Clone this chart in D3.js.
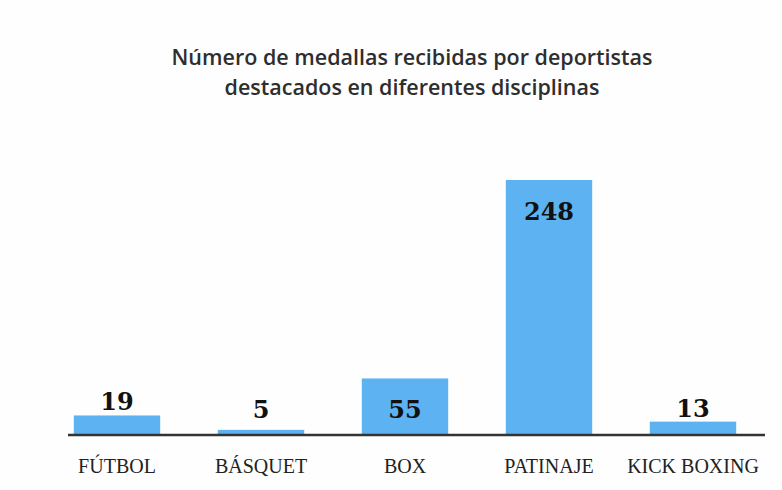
<!DOCTYPE html>
<html>
<head>
<meta charset="utf-8">
<script src="https://cdn.jsdelivr.net/npm/d3@7"></script>
<style>
  html, body { margin: 0; padding: 0; background: #fefefe; }
  svg { display: block; }
</style>
</head>
<body>
<svg id="chart" width="782" height="490"></svg>
<script>
// Medals per discipline
const categories = ["FÚTBOL", "BÁSQUET", "BOX", "PATINAJE", "KICK BOXING"];
const medals = [19, 5, 55, 248, 13];
const titleLines = [
  "Número de medallas recibidas por deportistas",
  "destacados en diferentes disciplinas"
];

const svg = d3.select("#chart");
const base = 435;

const x = d3.scaleBand()
  .domain(categories)
  .range([45, 765])
  .paddingInner(0.4)
  .paddingOuter(0.2);

const y = d3.scaleLinear()
  .domain([0, 248])
  .range([base, 180]);

// Title
svg.append("g")
  .selectAll("text")
  .data(titleLines)
  .join("text")
  .attr("x", 412)
  .attr("y", (d, i) => 65 + i * 30)
  .attr("text-anchor", "middle")
  .attr("font-family", "'Open Sans', sans-serif")
  .attr("font-weight", 600)
  .attr("font-size", 21.5)
  .attr("fill", "#2e2e2e")
  .text(d => d);

// Bars
svg.append("g")
  .selectAll("rect")
  .data(medals)
  .join("rect")
  .attr("x", (d, i) => x(categories[i]))
  .attr("width", x.bandwidth())
  .attr("y", d => y(d))
  .attr("height", d => base - y(d))
  .attr("fill", "#5db2f1");

// Baseline
svg.append("line")
  .attr("x1", 68).attr("x2", 765)
  .attr("y1", base).attr("y2", base)
  .attr("stroke", "#333")
  .attr("stroke-width", 2.5);

// Value labels: inside the bar when it is tall enough, otherwise just above
function labelY(v) {
  const top = y(v);
  if (top + 40 <= base - 14) return top + 40;
  return Math.min(top - 5, base - 17);
}
svg.append("g")
  .selectAll("text")
  .data(medals)
  .join("text")
  .attr("x", (d, i) => x(categories[i]) + x.bandwidth() / 2)
  .attr("y", d => labelY(d))
  .attr("text-anchor", "middle")
  .attr("font-family", "'DejaVu Serif', serif")
  .attr("font-weight", 700)
  .attr("font-size", 24)
  .attr("fill", "#111")
  .text(d => d);

// Category axis labels
const xAxis = d3.axisBottom(x).tickSize(0).tickPadding(0);
const gx = svg.append("g")
  .attr("transform", `translate(0, ${base})`)
  .call(xAxis);
gx.select(".domain").remove();
gx.selectAll("text")
  .attr("dy", 0)
  .attr("y", 38)
  .attr("font-family", "'Liberation Serif', serif")
  .attr("font-size", 20)
  .attr("fill", "#222");
</script>
</body>
</html>
